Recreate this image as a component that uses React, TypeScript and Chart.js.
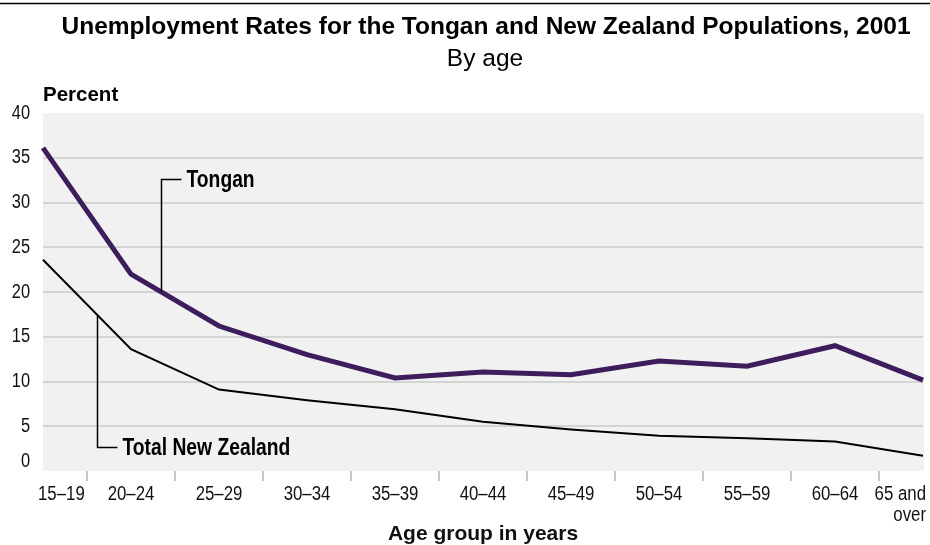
import React, { useEffect, useRef } from "react";
import { Chart, registerables } from "chart.js";

Chart.register(...registerables);

const FONT = '"Liberation Sans", Arial, Helvetica, sans-serif';
const NARROW_SCALE = 0.82; // emulate a condensed face by horizontal scaling

const chartTitle = "Unemployment Rates for the Tongan and New Zealand Populations, 2001";
const chartSubtitle = "By age";
const yUnitLabel = "Percent";
const xAxisTitle = "Age group in years";

const ageGroups = [
  "15–19",
  "20–24",
  "25–29",
  "30–34",
  "35–39",
  "40–44",
  "45–49",
  "50–54",
  "55–59",
  "60–64",
  "65 and over",
];
const ageTickLabels: (string | string[])[] = [
  "15–19",
  "20–24",
  "25–29",
  "30–34",
  "35–39",
  "40–44",
  "45–49",
  "50–54",
  "55–59",
  "60–64",
  ["65 and", "over"],
];

const tonganRates = [36.1, 22.0, 16.2, 13.0, 10.4, 11.05, 10.75, 12.3, 11.7, 14.0, 10.15];
const totalNzRates = [23.6, 13.6, 9.1, 7.9, 6.9, 5.5, 4.65, 3.95, 3.65, 3.3, 1.7];

const yMin = 0;
const yMax = 40;
const yStep = 5;

// callouts: label, dataset index, fractional category position of leader, value at label height
const callouts = [
  { text: "Tongan", dataset: 0, at: 1.34, labelValue: 32.6 },
  { text: "Total New Zealand", dataset: 1, at: 0.614, labelValue: 2.7 },
];

function seriesValueAt(data: number[], at: number) {
  const i0 = Math.floor(at);
  const t = at - i0;
  const a = data[i0];
  const b = data[Math.min(i0 + 1, data.length - 1)];
  return a + (b - a) * t;
}

function narrowText(ctx: CanvasRenderingContext2D, text: string, x: number, y: number, align: CanvasTextAlign) {
  ctx.save();
  ctx.translate(x, y);
  ctx.scale(NARROW_SCALE, 1);
  ctx.textAlign = align;
  ctx.fillText(text, 0, 0);
  ctx.restore();
}

const decorPlugin = {
  id: "decor",
  beforeDraw(chart: any) {
    const { ctx, chartArea: a } = chart;
    ctx.save();
    ctx.fillStyle = "#f1f1f1";
    ctx.fillRect(a.left, a.top, a.right - a.left + 1, a.bottom - a.top);
    ctx.restore();
  },
  afterDraw(chart: any) {
    const { ctx, chartArea: a } = chart;
    const xs = chart.scales.x;
    const ys = chart.scales.y;
    ctx.save();
    // top rule
    ctx.strokeStyle = "#000";
    ctx.lineWidth = 1.5;
    ctx.beginPath();
    ctx.moveTo(0, 3.5);
    ctx.lineTo(chart.width, 3.5);
    ctx.stroke();

    ctx.fillStyle = "#000";
    ctx.textBaseline = "alphabetic";
    ctx.textAlign = "center";
    ctx.font = `bold 24.5px ${FONT}`;
    ctx.fillText(chartTitle, 486, 33.5);
    ctx.font = `24.5px ${FONT}`;
    ctx.fillText(chartSubtitle, 485, 66);
    ctx.textAlign = "left";
    ctx.font = `bold 20.5px ${FONT}`;
    ctx.fillText(yUnitLabel, a.left, 101);

    // y tick labels (condensed)
    ctx.fillStyle = "#111";
    ctx.textBaseline = "middle";
    ctx.font = `20px ${FONT}`;
    ys.ticks.forEach((t: any) => {
      const y = ys.getPixelForValue(t.value) + (t.value === yMin ? -10 : 0);
      narrowText(ctx, String(t.value), a.left - 13, y, "right");
    });

    // x tick labels (condensed)
    ctx.font = `20.5px ${FONT}`;
    const lineH = 21;
    const n = ageTickLabels.length;
    ageTickLabels.forEach((lab, i) => {
      const px = xs.getPixelForTick(i);
      let align: CanvasTextAlign = "center";
      let x = px;
      if (i === 0) {
        align = "left";
        x = px - 5;
      } else if (i === n - 1) {
        align = "right";
        x = px + 3;
      }
      const lines = Array.isArray(lab) ? lab : [lab];
      lines.forEach((ln, k) => narrowText(ctx, ln, x, a.bottom + 23 + k * lineH, align));
    });

    // callouts
    ctx.fillStyle = "#000";
    ctx.strokeStyle = "#000";
    ctx.lineWidth = 1.5;
    ctx.font = `bold 23.5px ${FONT}`;
    callouts.forEach((c) => {
      const data = chart.data.datasets[c.dataset].data as number[];
      const x = Math.round(xs.getPixelForValue(c.at)) + 0.5;
      const yTop = Math.round(ys.getPixelForValue(c.labelValue)) + 0.5;
      const yBottom = ys.getPixelForValue(seriesValueAt(data, c.at));
      ctx.beginPath();
      ctx.moveTo(x + 20, yTop);
      ctx.lineTo(x, yTop);
      ctx.lineTo(x, yBottom);
      ctx.stroke();
      narrowText(ctx, c.text, x + 25, yTop + 1.5, "left");
    });
    ctx.restore();
  },
};

export default function App() {
  const canvasRef = useRef<HTMLCanvasElement | null>(null);

  useEffect(() => {
    const canvas = canvasRef.current;
    if (!canvas) return;
    Chart.defaults.font.family = FONT;
    Chart.defaults.color = "#111";
    const chart = new Chart(canvas, {
      type: "line",
      data: {
        labels: ageGroups,
        datasets: [
          {
            label: "Tongan",
            data: tonganRates,
            borderColor: "#3d1d5c",
            borderWidth: 5,
            pointRadius: 0,
            pointHoverRadius: 0,
            tension: 0,
            fill: false,
          },
          {
            label: "Total New Zealand",
            data: totalNzRates,
            borderColor: "#000000",
            borderWidth: 2,
            pointRadius: 0,
            pointHoverRadius: 0,
            tension: 0,
            fill: false,
          },
        ],
      },
      options: {
        animation: false,
        responsive: false,
        devicePixelRatio: 1,
        events: [],
        layout: { padding: { top: 113, right: 7, left: 0, bottom: 0 } },
        plugins: {
          legend: { display: false },
          title: { display: false },
          tooltip: { enabled: false },
        },
        scales: {
          x: {
            type: "category",
            offset: false,
            border: { display: false },
            grid: {
              offset: true,
              drawOnChartArea: false,
              drawTicks: true,
              tickLength: 10,
              color: "#c8c8c8",
              lineWidth: 2,
            },
            ticks: {
              display: false,
              autoSkip: false,
              maxRotation: 0,
              minRotation: 0,
            },
            title: {
              display: true,
              text: xAxisTitle,
              color: "#111",
              font: { size: 21, weight: "bold", family: FONT, lineHeight: 1 },
              padding: 0,
            },
            afterFit: (scale: any) => {
              scale.height = 74;
            },
          },
          y: {
            min: yMin,
            max: yMax,
            border: { display: false },
            grid: {
              drawTicks: false,
              lineWidth: 2,
              color: (ctx: any) =>
                ctx.tick && (ctx.tick.value === yMin || ctx.tick.value === yMax)
                  ? "rgba(0,0,0,0)"
                  : "#d4d4d4",
            },
            ticks: {
              display: false,
              stepSize: yStep,
            },
            afterFit: (scale: any) => {
              scale.width = 43;
            },
          },
        },
      },
      plugins: [decorPlugin],
    });
    return () => chart.destroy();
  }, []);

  return (
    <div style={{ position: "fixed", left: 0, top: 0, width: 930, height: 545, background: "#fff" }}>
      <canvas ref={canvasRef} width={930} height={545} style={{ display: "block", width: 930, height: 545 }} />
    </div>
  );
}
